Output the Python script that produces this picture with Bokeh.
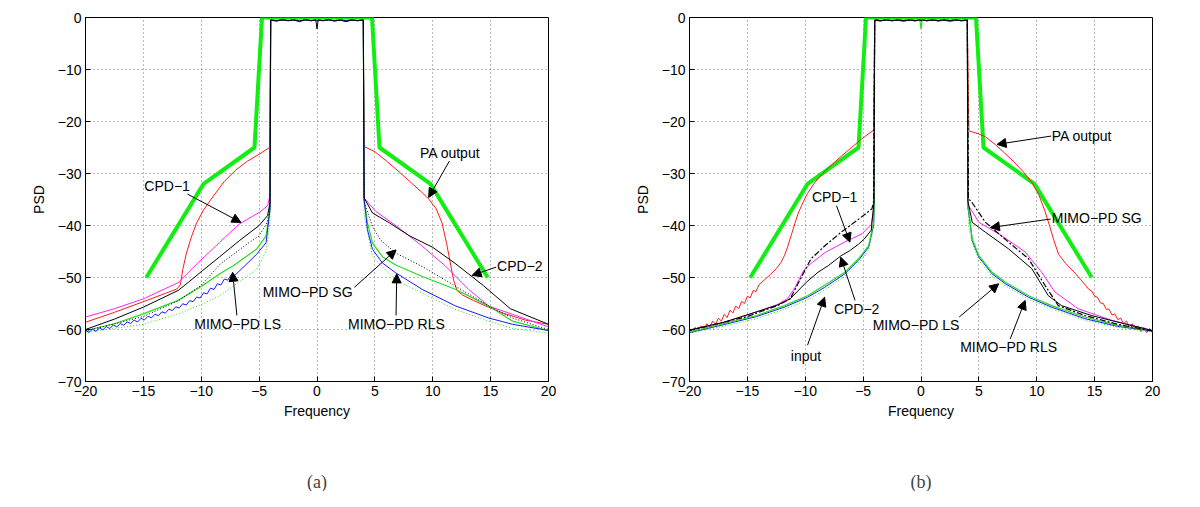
from bokeh.plotting import figure
from bokeh.layouts import row, column
from bokeh.models import Range1d, Label, Arrow, NormalHead, FixedTicker, Title
from bokeh.embed import file_html
from bokeh.resources import INLINE

# ---------------- data ----------------
freq_ticks = [-20, -15, -10, -5, 0, 5, 10, 15, 20]
psd_ticks = [-70, -60, -50, -40, -30, -20, -10, 0]

# spectrum mask (thick green)
mask_f = [-14.75, -9.8, -5.4, -4.75, 4.75, 5.4, 9.8, 14.75]
mask_p = [-50, -32, -25, 0, 0, -25, -32, -50]

# in-band part shared by all curves
inband_f = [-4.0, -3.5, -3.0, -2.5, -2.0, -1.5, -1.0, -0.5, -0.1, 0.0, 0.1, 0.5, 1.0, 1.5, 2.0, 2.5, 3.0, 3.5, 4.0]
inband_p = [-0.5, -0.7, -0.4, -0.6, -0.5, -0.8, -0.4, -0.6, -0.5, -2.2, -0.5, -0.6, -0.4, -0.7, -0.5, -0.8, -0.5, -0.6, -0.5]
inband_flat_p = [-0.5, -0.6, -0.5, -0.6, -0.5, -0.6, -0.5, -0.6, -0.5, -0.6, -0.5, -0.6, -0.5, -0.6, -0.5, -0.6, -0.5, -0.6, -0.5]

# ---- panel (a) out-of-band tails ----
a_red_f = [-20, -17.5, -14.7, -12.1, -11.8, -11.6, -11.3, -10.9, -10.4, -9.8, -9.0, -8.0, -7.0, -6.0, -5.0, -4.1,
           4.07, 5.0, 6.0, 7.0, 8.0, 9.0, 9.7, 10.3, 10.8, 11.2, 11.5, 11.8, 12.1, 12.6, 13.5, 14.6, 16.0, 18.0, 20]
a_red_p = [-58.6, -56.7, -54.4, -52.2, -51.4, -48.5, -45.5, -42.5, -39.5, -37.0, -34.5, -31.5, -29.3, -27.6, -26.3, -25.0,
           -24.8, -25.8, -27.6, -29.5, -31.5, -33.5, -35.0, -36.8, -39.5, -43.5, -47.0, -50.5, -52.5, -53.4, -54.4, -55.5, -56.8, -58.2, -59.0]

a_mag_f = [-20, -17.5, -15.0, -12.0, -10.2, -8.44, -6.7, -5.0, -4.27, -4.1,
           4.07, 5.08, 7.1, 9.1, 11.1, 13.1, 14.85, 16.9, 20]
a_mag_p = [-57.6, -56.0, -54.1, -51.0, -47.0, -43.3, -39.7, -37.5, -36.2, -34.6,
           -34.7, -37.3, -40.5, -44.0, -47.8, -52.3, -55.5, -57.1, -59.5]

a_blk_f = [-20, -17.5, -15.0, -12.0, -11.1, -9.9, -8.4, -6.7, -5.0, -4.27, -4.06,
           4.07, 4.8, 6.26, 8.0, 10.0, 12.0, 14.4, 16.7, 20]
a_blk_p = [-60.0, -58.0, -55.7, -52.5, -50.9, -48.7, -46.0, -42.9, -40.0, -38.1, -35.6,
           -34.7, -37.6, -39.5, -42.0, -44.2, -47.4, -51.6, -56.0, -59.0]

a_grn_f = [-20, -17.5, -15.0, -12.0, -9.9, -8.4, -7.2, -5.2, -4.4, -4.06,
           4.07, 4.36, 4.8, 5.65, 6.8, 9.1, 12.0, 14.85, 16.9, 20]
a_grn_p = [-60.2, -58.9, -57.0, -54.4, -51.6, -49.3, -47.7, -44.5, -42.0, -36.9,
           -35.0, -39.5, -43.4, -46.0, -47.6, -49.8, -52.3, -55.5, -58.4, -60.2]

a_blu_f = [-20, -19.7, -19.4, -19.1, -18.8, -18.5, -18.2, -17.9, -17.6, -17.3, -17.0, -16.7, -16.4, -16.1,
           -15.8, -15.5, -15.2, -14.9, -14.6, -14.3, -14.0, -13.7, -13.4, -13.1, -12.8, -12.5, -12.2, -11.9,
           -11.6, -11.3, -11.0, -10.7, -10.4, -10.1, -9.8, -9.5, -9.2, -8.9, -8.6, -8.3, -8.0, -7.7, -7.4, -7.1,
           -5.2, -4.4, -4.06,
           4.07, 4.36, 4.8, 5.65, 6.8, 9.1, 12.0, 14.85, 16.9, 20]
a_blu_p = [-60.15, -60.55, -59.95, -60.35, -59.7, -60.05, -59.45, -59.8, -59.15, -59.5, -58.85, -59.2, -58.55, -58.85,
           -58.2, -58.55, -57.85, -58.15, -57.45, -57.75, -57.05, -57.35, -56.6, -56.85, -56.1, -56.35, -55.65, -55.85,
           -55.05, -55.3, -54.45, -54.65, -53.75, -53.95, -52.95, -53.15, -52.05, -52.3, -51.2, -51.45, -50.3, -50.5, -49.4, -49.6,
           -45.5, -43.3, -36.9,
           -35.0, -40.8, -44.6, -47.2, -49.1, -52.3, -55.5, -57.8, -59.0, -60.2]

a_dgr_f = [-20, -15.0, -12.0, -9.9, -8.4, -7.2, -5.2, -4.4, -4.06,
           4.07, 4.8, 6.8, 9.1, 12.0, 14.85, 16.9, 20]
a_dgr_p = [-60.6, -59.0, -57.0, -55.1, -53.5, -51.6, -48.4, -44.9, -39.4,
           -38.0, -46.0, -50.5, -53.0, -56.2, -58.4, -59.8, -60.7]

a_dbk_f = [-20, -15.0, -12.0, -10.0, -8.4, -7.2, -6.0, -5.0, -4.3, -4.06,
           4.07, 4.8, 5.5, 6.8, 9.1, 12.0, 14.85, 16.9, 20]
a_dbk_p = [-60.3, -57.5, -54.5, -51.5, -47.5, -45.5, -43.5, -42.0, -39.4, -36.5,
           -35.5, -40.2, -42.8, -45.3, -47.9, -51.7, -55.5, -57.8, -60.0]

# ---- panel (b) out-of-band tails ----
b_red_f = [-20, -19.75, -19.5, -19.25, -19.0, -18.75, -18.5, -18.25, -18.0, -17.75, -17.5, -17.25, -17.0,
           -16.75, -16.5, -16.25, -16.0, -15.75, -15.5, -15.25, -15.0, -14.75, -14.5, -14.25, -14.0,
           -13.5, -13.0, -12.5, -12.1, -11.8, -11.55, -11.2, -10.9, -10.6, -10.2, -9.8, -9.2, -8.5, -7.7,
           -6.9, -6.0, -5.2, -4.5, -4.1,
           4.14, 5.0, 5.55, 6.4, 7.2, 8.0, 8.8, 9.6, 10.2, 10.7, 11.1, 11.5, 11.9, 12.5, 13.2, 13.8, 14.25,
           14.5, 14.75, 15.0, 15.25, 15.5, 15.75, 16.0, 16.25, 16.5, 16.75, 17.0, 17.25, 17.5, 17.75, 18.0,
           18.25, 18.5, 18.75, 19.0, 19.25, 19.5, 19.75, 20]
b_red_p = [-59.8, -60.6, -59.6, -60.3, -59.3, -60.0, -58.9, -59.6, -58.4, -59.0, -57.8, -58.4, -57.1,
           -57.7, -56.3, -56.8, -55.5, -56.0, -54.6, -55.0, -53.6, -53.9, -52.5, -52.7, -51.4,
           -50.4, -49.4, -48.3, -47.1, -45.8, -44.3, -41.8, -39.6, -37.6, -35.6, -33.8, -31.8, -30.0, -28.3,
           -26.7, -25.0, -23.5, -22.3, -21.7,
           -21.8, -22.4, -22.9, -24.4, -26.0, -27.7, -29.6, -31.8, -34.2, -37.2, -40.0, -43.0, -45.6, -47.3, -48.9, -50.4, -51.6,
           -52.3, -52.6, -53.6, -53.8, -54.9, -55.0, -56.1, -56.1, -57.2, -57.0, -58.1, -57.8, -58.9, -58.4, -59.5,
           -58.9, -60.0, -59.3, -60.4, -59.6, -60.6, -59.8, -60.5]

b_mag_f = [-20, -17.0, -14.2, -12.4, -11.5, -10.9, -10.1, -9.5, -8.3, -6.6, -5.1, -4.3, -4.1,
           4.05, 4.29, 5.0, 7.0, 9.0, 10.43, 11.57, 13.57, 16.43, 20]
b_mag_p = [-60.1, -58.6, -56.6, -55.2, -54.0, -52.0, -48.5, -47.3, -45.2, -43.2, -41.6, -39.8, -37.0,
           -36.0, -36.8, -39.4, -42.0, -45.1, -49.0, -52.8, -56.0, -58.2, -60.2]

b_blk_f = [-20, -17.0, -14.2, -12.4, -11.3, -9.9, -8.9, -8.0, -6.9, -6.2, -5.4, -4.9, -4.3, -4.06,
           4.05, 4.43, 5.57, 7.57, 9.57, 11.0, 12.14, 14.71, 17.57, 20]
b_blk_p = [-60.1, -58.6, -56.6, -55.3, -54.1, -50.9, -49.0, -47.7, -45.8, -44.9, -43.6, -42.6, -40.9, -35.5,
           -35.3, -39.4, -41.3, -44.5, -48.3, -53.5, -55.4, -57.3, -58.9, -60.2]

b_sg_f = [-20, -15.0, -12.4, -11.3, -10.7, -9.5, -8.3, -6.9, -5.4, -4.24, -4.1,
          4.1, 4.29, 5.57, 7.57, 9.29, 10.71, 11.86, 14.14, 17.0, 20]
b_sg_p = [-60.2, -57.5, -55.4, -54.1, -51.5, -46.4, -43.9, -41.3, -38.8, -36.8, -35.5,
          -35.0, -35.2, -39.4, -43.2, -46.4, -51.5, -55.4, -57.3, -59.0, -60.3]

b_grn_f = [-20, -17.1, -14.2, -11.8, -9.8, -8.33, -6.58, -5.4, -4.53, -4.09, -4.05,
           4.05, 4.14, 4.43, 5.0, 6.14, 7.29, 9.29, 11.29, 14.14, 17.0, 20]
b_grn_p = [-60.5, -58.9, -57.3, -55.4, -53.5, -51.5, -49.0, -46.4, -43.9, -39.4, -36.5,
           -36.5, -37.5, -42.6, -45.8, -49.0, -50.9, -53.5, -55.4, -57.6, -59.2, -60.2]

b_blu_f = [-20, -17.1, -14.2, -11.8, -9.8, -8.33, -6.58, -5.4, -4.53, -4.09, -4.05,
           4.05, 4.14, 4.43, 5.0, 6.14, 7.29, 9.29, 11.29, 14.14, 17.0, 20]
b_blu_p = [-60.6, -59.1, -57.5, -55.7, -53.8, -51.9, -49.3, -46.7, -44.2, -39.8, -36.5,
           -36.5, -37.8, -42.9, -46.1, -49.3, -51.2, -53.8, -55.7, -57.9, -59.4, -60.3]

b_dgr_f = [-20, -17.1, -14.2, -11.8, -9.8, -8.33, -6.58, -5.4, -4.53, -4.09,
           4.09, 4.43, 5.0, 6.14, 7.29, 9.29, 11.29, 14.14, 17.0, 20]
b_dgr_p = [-60.7, -59.4, -57.9, -56.1, -54.3, -52.4, -49.8, -47.2, -44.8, -40.5,
           -40.0, -43.5, -46.6, -49.8, -51.6, -54.2, -56.0, -58.2, -59.6, -60.5]

# annotations: text, text x, text y, align, arrow tail x, tail y, head x, head y
a_notes = [
    ("CPD\u22121", -12.95, -32.4, "center", -11.18, -33.97, -6.57, -39.4),
    ("PA output", 11.5, -26.0, "center", 11.44, -27.6, 9.65, -34.6),
    ("CPD\u22122", 15.56, -47.7, "left", 15.48, -48.0, 13.4, -49.6),
    ("MIMO\u2212PD SG", -0.81, -52.8, "center", 3.23, -51.9, 6.83, -44.7),
    ("MIMO\u2212PD LS", -6.86, -58.9, "center", -6.92, -57.3, -7.29, -49.0),
    ("MIMO\u2212PD RLS", 6.86, -58.9, "center", 6.83, -57.3, 6.89, -49.3),
]
b_notes = [
    ("PA output", 11.3, -22.8, "left", 11.25, -22.8, 6.57, -24.4),
    ("MIMO\u2212PD SG", 11.3, -38.6, "left", 11.2, -38.75, 6.0, -40.4),
    ("CPD\u22121", -7.46, -34.6, "center", -7.3, -36.2, -6.14, -43.2),
    ("CPD\u22122", -5.56, -56.0, "center", -5.7, -54.4, -6.93, -46.1),
    ("input", -9.94, -65.1, "center", -9.8, -63.0, -8.33, -53.8),
    ("MIMO\u2212PD LS", -0.43, -59.1, "center", 3.3, -57.6, 6.71, -51.2),
    ("MIMO\u2212PD RLS", 7.57, -63.4, "center", 7.71, -61.8, 9.0, -54.4),
]

# ---------------- style ----------------
FONT = "Liberation Sans"
RED = "#ff1a1a"
MAG = "#ff22ff"
GRN = "#22dd22"
MASK = "#11ee11"
BLU = "#1a1aff"
BLK = "#000000"


def full_curve(tf, tp, ibp=inband_flat_p):
    lf = [f for f in tf if f < 0]
    lp = [p for f, p in zip(tf, tp) if f < 0]
    rf = [f for f in tf if f > 0]
    rp = [p for f, p in zip(tf, tp) if f > 0]
    return lf + inband_f + rf, lp + ibp + rp


def make_fig(left_border, right_border, width):
    p = figure(width=width, height=431, output_backend="svg", toolbar_location=None,
               x_range=Range1d(-20, 20), y_range=Range1d(-70, 0),
               min_border_left=left_border, min_border_right=right_border,
               min_border_top=17, min_border_bottom=50)
    p.outline_line_color = "black"
    p.outline_line_width = 1
    p.background_fill_color = "white"
    p.border_fill_color = "white"

    minus = lambda v: str(v).replace("-", "\u2212")
    p.xaxis.ticker = FixedTicker(ticks=freq_ticks)
    p.yaxis.ticker = FixedTicker(ticks=psd_ticks)
    p.xaxis.major_label_overrides = {v: minus(v) for v in freq_ticks}
    p.yaxis.major_label_overrides = {v: minus(v) for v in psd_ticks}
    for ax in (p.xaxis[0], p.yaxis[0]):
        ax.major_tick_in = 5
        ax.major_tick_out = 0
        ax.minor_tick_in = 0
        ax.minor_tick_out = 0
        ax.axis_line_color = "black"
        ax.major_tick_line_color = "black"
        ax.major_label_text_font = FONT
        ax.major_label_text_font_size = "14px"
        ax.major_label_text_color = "black"
        ax.axis_label_text_font = FONT
        ax.axis_label_text_font_size = "14px"
        ax.axis_label_text_font_style = "normal"
        ax.axis_label_text_color = "black"
    p.xaxis.axis_label = "Frequency"
    p.yaxis.axis_label = "PSD"
    p.xaxis.major_label_standoff = 4
    p.xaxis.axis_label_standoff = 4
    p.yaxis.major_label_standoff = 4
    p.yaxis.axis_label_standoff = 8

    p.xgrid.ticker = FixedTicker(ticks=freq_ticks)
    p.ygrid.ticker = FixedTicker(ticks=psd_ticks)
    for g in (p.xgrid[0], p.ygrid[0]):
        g.grid_line_color = "#777777"
        g.grid_line_dash = "1 3"
        g.grid_line_width = 1
    return p


def caption_fig(label, left_border, right_border, width):
    c = figure(width=width, height=60, output_backend="svg", toolbar_location=None,
               x_axis_type=None, y_axis_type=None, x_range=Range1d(0, 1), y_range=Range1d(0, 1),
               min_border_left=left_border, min_border_right=right_border,
               min_border_top=0, min_border_bottom=0)
    c.outline_line_color = None
    c.background_fill_color = "white"
    c.border_fill_color = "white"
    c.add_layout(Title(text=label, align="center", text_font="Liberation Serif",
                       text_font_size="18px", text_font_style="normal", standoff=0), "below")
    return c


def add_notes(p, notes):
    for txt, tx, ty, al, x0, y0, x1, y1 in notes:
        p.add_layout(Arrow(end=NormalHead(size=9, fill_color="black", line_color="black"),
                           x_start=x0, y_start=y0, x_end=x1, y_end=y1,
                           line_color="black", line_width=1))
        p.add_layout(Label(x=tx, y=ty, text=txt, text_align=al, text_baseline="middle",
                           text_font=FONT, text_font_size="14px", text_color="black"))


# ---------------- panel (a) ----------------
pa = make_fig(85, 44, 592)
pa.line(mask_f, mask_p, line_color=MASK, line_width=4)
f, v = full_curve(a_red_f, a_red_p); pa.line(f, v, line_color=RED, line_width=1)
f, v = full_curve(a_mag_f, a_mag_p); pa.line(f, v, line_color=MAG, line_width=1)
f, v = full_curve(a_dgr_f, a_dgr_p); pa.line(f, v, line_color=GRN, line_width=1, line_dash="1 2")
f, v = full_curve(a_grn_f, a_grn_p); pa.line(f, v, line_color=GRN, line_width=1.2)
f, v = full_curve(a_blu_f, a_blu_p); pa.line(f, v, line_color=BLU, line_width=1)
f, v = full_curve(a_dbk_f, a_dbk_p); pa.line(f, v, line_color=BLK, line_width=1, line_dash="1 2")
f, v = full_curve(a_blk_f, a_blk_p, inband_p); pa.line(f, v, line_color=BLK, line_width=1)
add_notes(pa, a_notes)

# ---------------- panel (b) ----------------
pb = make_fig(97, 30, 590)
pb.line(mask_f, mask_p, line_color=MASK, line_width=4)
f, v = full_curve(b_red_f, b_red_p); pb.line(f, v, line_color=RED, line_width=1)
f, v = full_curve(b_dgr_f, b_dgr_p); pb.line(f, v, line_color=GRN, line_width=1, line_dash="1 2")
f, v = full_curve(b_blu_f, b_blu_p); pb.line(f, v, line_color=BLU, line_width=1)
f, v = full_curve(b_grn_f, b_grn_p, inband_p); pb.line(f, v, line_color=GRN, line_width=1.2)
f, v = full_curve(b_mag_f, b_mag_p); pb.line(f, v, line_color=MAG, line_width=1)
f, v = full_curve(b_sg_f, b_sg_p); pb.line(f, v, line_color=BLK, line_width=1.2, line_dash="6 2 2 2")
f, v = full_curve(b_blk_f, b_blk_p); pb.line(f, v, line_color=BLK, line_width=1)
add_notes(pb, b_notes)

ca = caption_fig("(a)", 85, 44, 592)
cb = caption_fig("(b)", 97, 30, 590)

layout = column(row(pa, pb), row(ca, cb))
open("out.html", "w").write(file_html(layout, INLINE))
